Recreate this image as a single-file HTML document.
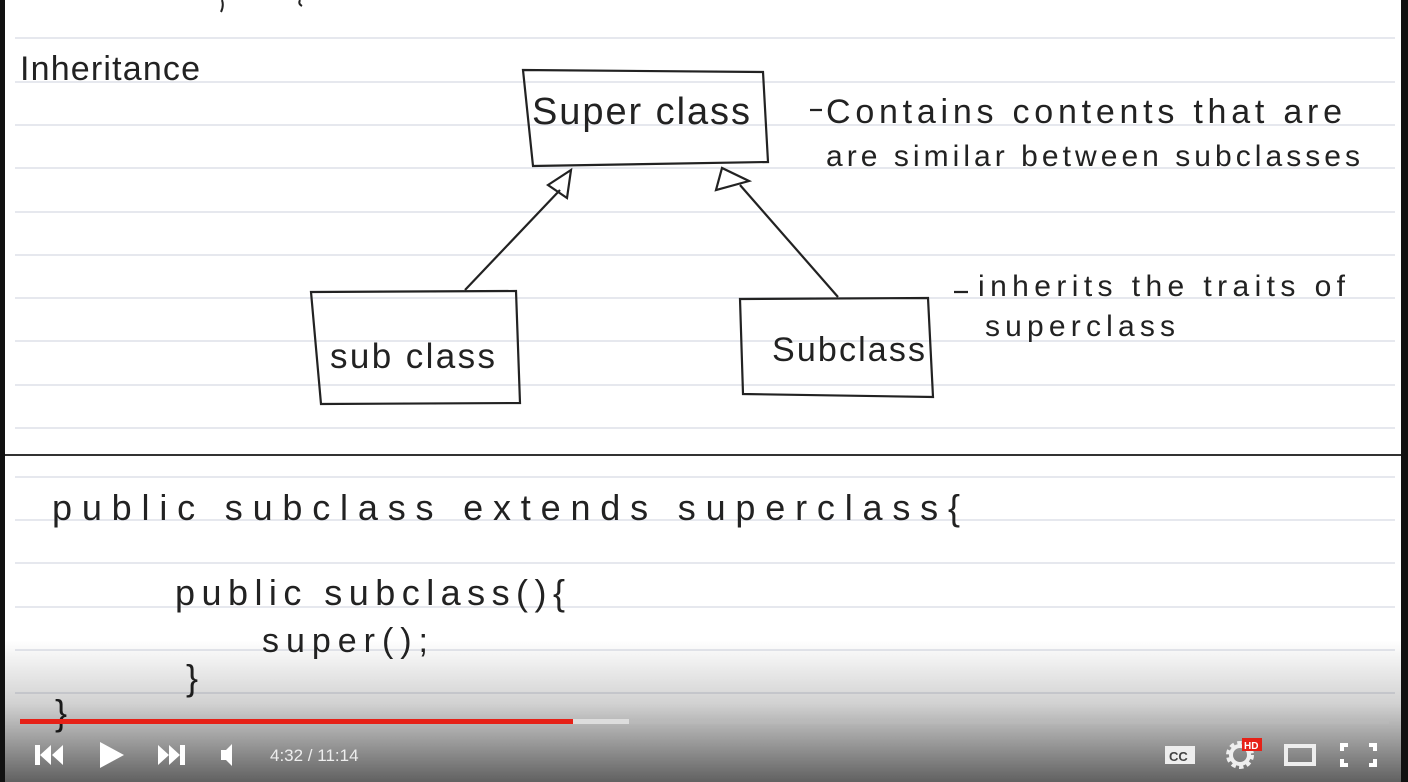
<!DOCTYPE html>
<html><head><meta charset="utf-8"><style>
html,body{margin:0;padding:0;background:#fff;}
body{width:1408px;height:782px;overflow:hidden;position:relative;}
svg{position:absolute;left:0;top:0;}
text{font-family:"Liberation Sans",sans-serif;fill:#222;}
.h{font-size:38px;}
</style></head><body>
<svg width="1408" height="782" viewBox="0 0 1408 782">
<defs>
<linearGradient id="g" x1="0" y1="0" x2="0" y2="1">
<stop offset="0" stop-color="#000" stop-opacity="0"/>
<stop offset="0.45" stop-color="#000" stop-opacity="0.18"/>
<stop offset="1" stop-color="#000" stop-opacity="0.62"/>
</linearGradient>
</defs>
<rect width="1408" height="782" fill="#fff"/>
<g stroke="#e6e8ee" stroke-width="2">
<line x1="15" y1="38" x2="1395" y2="38"/>
<line x1="15" y1="82" x2="1395" y2="82"/>
<line x1="15" y1="125" x2="1395" y2="125"/>
<line x1="15" y1="168" x2="1395" y2="168"/>
<line x1="15" y1="212" x2="1395" y2="212"/>
<line x1="15" y1="255" x2="1395" y2="255"/>
<line x1="15" y1="298" x2="1395" y2="298"/>
<line x1="15" y1="341" x2="1395" y2="341"/>
<line x1="15" y1="385" x2="1395" y2="385"/>
<line x1="15" y1="428" x2="1395" y2="428"/>
<line x1="15" y1="477" x2="1395" y2="477"/>
<line x1="15" y1="520" x2="1395" y2="520"/>
<line x1="15" y1="563" x2="1395" y2="563"/>
<line x1="15" y1="607" x2="1395" y2="607"/>
<line x1="15" y1="650" x2="1395" y2="650"/>
<line x1="15" y1="693" x2="1395" y2="693"/>
</g>
<line x1="5" y1="455" x2="1401" y2="455" stroke="#333" stroke-width="2"/>
<rect x="0" y="0" width="5" height="782" fill="#111"/>
<rect x="1401" y="0" width="7" height="782" fill="#111"/>
<path d="M222 0 q2 6 -1 12 M300 0 q-2 4 2 6" stroke="#222" stroke-width="2" fill="none"/>
<text x="20" y="80" class="h" style="font-size:34px" textLength="180" lengthAdjust="spacing">Inheritance</text>
<g stroke="#222" stroke-width="2.2" fill="none">
<path d="M523 70 L763 72 L768 162 L533 166 Z"/>
<path d="M311 292 L516 291 L520 403 L321 404 Z"/>
<path d="M740 299 L928 298 L933 397 L743 394 Z"/>
<path d="M465 290 L560 190"/>
<path d="M838 297 L740 185"/>
<path d="M548 185 L571 170 L567 198 Z"/>
<path d="M716 190 L722 168 L749 181 Z"/>
<path d="M810 110 L822 110 M954 292 L968 292"/>
</g>
<text x="532" y="124" class="h" textLength="218" lengthAdjust="spacing">Super class</text>
<text x="826" y="123" class="h" style="font-size:34px" textLength="516" lengthAdjust="spacing">Contains contents that are</text>
<text x="826" y="166" class="h" style="font-size:30px" textLength="534" lengthAdjust="spacing">are similar between subclasses</text>
<text x="330" y="368" class="h" style="font-size:35px" textLength="165" lengthAdjust="spacing">sub class</text>
<text x="772" y="361" class="h" style="font-size:34px" textLength="153" lengthAdjust="spacing">Subclass</text>
<text x="978" y="296" class="h" style="font-size:30px" textLength="367" lengthAdjust="spacing">inherits the traits of</text>
<text x="985" y="336" class="h" style="font-size:30px" textLength="190" lengthAdjust="spacing">superclass</text>
<text x="52" y="520" class="h" style="font-size:36px" textLength="908" lengthAdjust="spacing">public   subclass   extends   superclass{</text>
<text x="175" y="605" class="h" style="font-size:36px" textLength="390" lengthAdjust="spacing">public subclass(){</text>
<text x="262" y="652" class="h" style="font-size:34px" textLength="166" lengthAdjust="spacing">super();</text>
<text x="186" y="690" class="h" style="font-size:36px">}</text>
<text x="55" y="725" class="h" style="font-size:36px">}</text>
<rect x="5" y="640" width="1396" height="142" fill="url(#g)"/>
<rect x="20" y="719" width="1369" height="5" fill="#bbb" opacity="0.6"/>
<rect x="20" y="719" width="609" height="5" fill="#ddd"/>
<rect x="20" y="719" width="553" height="5" fill="#e62117"/>
<g fill="#fff">
<path d="M35 745 h5 v20 h-5 Z M51 745 v20 l-11 -10 Z M63 745 v20 l-11 -10 Z"/>
<path d="M100 742 L124 755 L100 768 Z"/>
<path d="M158 745 v20 l11 -10 Z M169 745 v20 l11 -10 Z M180 745 h5 v20 h-5 Z"/>
<path d="M221 750 h5 l6 -6 v22 l-6 -6 h-5 Z"/>
<text x="270" y="761" style="fill:#eee;font-size:17px">4:32 / 11:14</text>
<rect x="1165" y="746" width="30" height="18" fill="#eee"/>
<text x="1169" y="761" style="fill:#444;font-size:13px;font-weight:bold">CC</text>
<circle cx="1240" cy="755" r="11" fill="none" stroke="#eee" stroke-width="6" stroke-dasharray="4 3"/>
<circle cx="1240" cy="755" r="9" fill="none" stroke="#eee" stroke-width="4"/>
<rect x="1242" y="738" width="20" height="13" fill="#e62117"/>
<text x="1244" y="749" style="fill:#fff;font-size:10px;font-weight:bold">HD</text>
<rect x="1286" y="746" width="28" height="18" fill="none" stroke="#eee" stroke-width="4"/>
<path d="M1340 743 h8 v4 h-4 v4 h-4 Z M1369 743 h8 v8 h-4 v-4 h-4 Z M1340 759 h4 v4 h4 v4 h-8 Z M1373 759 h4 v8 h-8 v-4 h4 Z"/>
</g>
</svg>
</body></html>
